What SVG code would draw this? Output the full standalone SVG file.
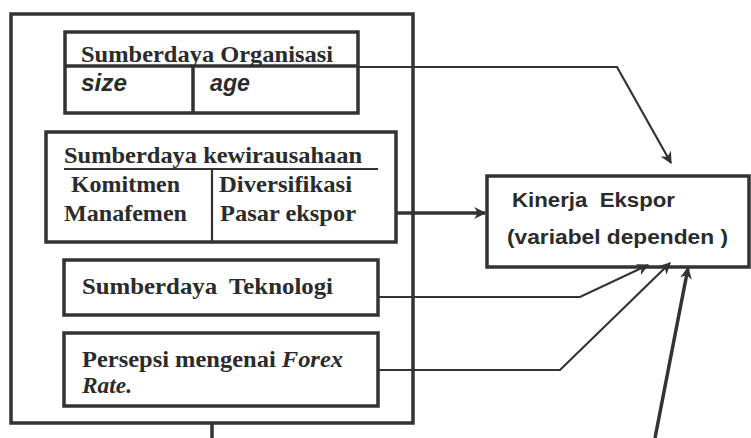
<svg xmlns="http://www.w3.org/2000/svg" width="751" height="438" viewBox="0 0 751 438">
<defs>
<style>
.box{fill:none;stroke:#333;stroke-width:3.5}
.ln{fill:none;stroke:#333;stroke-width:2.2}
.thk{fill:none;stroke:#333;stroke-width:3.5}
.sr{font-family:"Liberation Serif",serif;font-weight:bold;font-size:23px;fill:#2b2b2b}
.sa{font-family:"Liberation Sans",sans-serif;font-weight:bold;font-size:20px;fill:#2b2b2b}
.si{font-family:"Liberation Sans",sans-serif;font-weight:bold;font-style:italic;font-size:23px;fill:#2b2b2b}
</style>
<marker id="ah2" viewBox="0 0 10 10" refX="9" refY="5" markerWidth="14" markerHeight="12" orient="auto" markerUnits="userSpaceOnUse">
<path d="M0,0 L10,5 L0,10 L3,5 z" fill="#333"/>
</marker>
</defs>
<rect width="751" height="438" fill="#fff"/>
<g id="connectors">
<path class="ln" d="M358,67 L617,67 L671,163" marker-end="url(#ah2)"/>
<path class="thk" d="M396,213 L485,213" marker-end="url(#ah2)"/>
<path class="ln" d="M378,297 L580,297 L648,265" marker-end="url(#ah2)"/>
<path class="ln" d="M378,370 L560,370 L670,263" marker-end="url(#ah2)"/>
<path class="thk" d="M655,438 L688,268" marker-end="url(#ah2)"/>
<path class="thk" d="M212,423 L212,438"/>
</g>
<g id="outer">
<rect class="box" x="11" y="14" width="402" height="409"/>
</g>
<g id="org">
<rect class="box" x="65" y="32" width="293" height="81"/>
<line class="box" x1="65" y1="66" x2="358" y2="66"/>
<line class="box" x1="193" y1="66" x2="193" y2="113"/>
<text class="sr" x="81" y="62" textLength="252" lengthAdjust="spacingAndGlyphs">Sumberdaya Organisasi</text>
<text class="si" x="81" y="91" textLength="46" lengthAdjust="spacingAndGlyphs">size</text>
<text class="si" x="210" y="91" textLength="40" lengthAdjust="spacingAndGlyphs">age</text>
</g>
<g id="kewirausahaan">
<rect class="box" x="46" y="132" width="350" height="110"/>
<line class="ln" x1="64" y1="169" x2="378" y2="169"/>
<line class="ln" x1="212" y1="169" x2="212" y2="242"/>
<text class="sr" x="64" y="163" textLength="298" lengthAdjust="spacingAndGlyphs">Sumberdaya kewirausahaan</text>
<text class="sr" x="71" y="192" textLength="109" lengthAdjust="spacingAndGlyphs">Komitmen</text>
<text class="sr" x="64" y="221" textLength="123" lengthAdjust="spacingAndGlyphs">Manafemen</text>
<text class="sr" x="219" y="192" textLength="133" lengthAdjust="spacingAndGlyphs">Diversifikasi</text>
<text class="sr" x="220" y="221" textLength="136" lengthAdjust="spacingAndGlyphs">Pasar ekspor</text>
</g>
<g id="teknologi">
<rect class="box" x="64" y="260" width="314" height="55"/>
<text class="sr" x="82" y="294" textLength="251" lengthAdjust="spacingAndGlyphs" xml:space="preserve">Sumberdaya  Teknologi</text>
</g>
<g id="forex">
<rect class="box" x="64" y="333" width="314" height="73"/>
<text class="sr" x="82" y="367" textLength="261" lengthAdjust="spacingAndGlyphs">Persepsi mengenai <tspan font-style="italic">Forex</tspan></text>
<text class="sr" x="82" y="393" font-style="italic" textLength="50" lengthAdjust="spacingAndGlyphs">Rate.</text>
</g>
<g id="kinerja">
<rect class="box" x="487" y="176" width="262" height="91"/>
<text class="sa" x="512" y="207" textLength="163" lengthAdjust="spacingAndGlyphs" xml:space="preserve">Kinerja  Ekspor</text>
<text class="sa" x="507" y="244" textLength="221" lengthAdjust="spacingAndGlyphs">(variabel dependen )</text>
</g>
</svg>
